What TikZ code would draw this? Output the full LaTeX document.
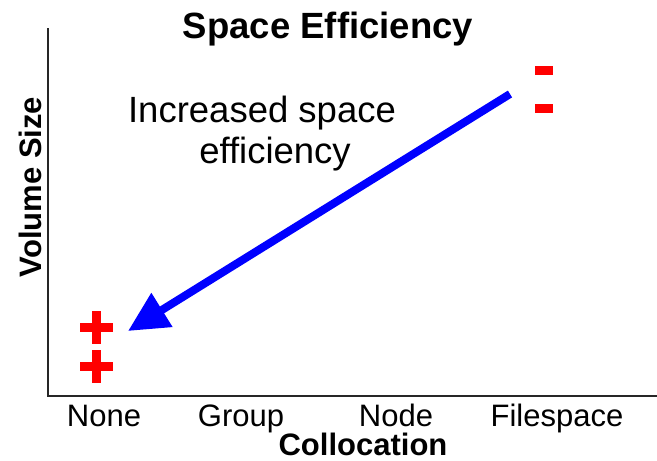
\documentclass[tikz,border=0pt]{standalone}
\usepackage{fontspec}
\setmainfont{Liberation Sans}
\usetikzlibrary{arrows.meta}

\tikzset{
    axis/.style={line width=2.5pt, black!85},
    ticklabel/.style={anchor=base, font=\fontsize{31}{31}\selectfont, inner sep=0pt},
    plussign/.style={fill=red, draw=none},
}

\begin{document}
\begin{tikzpicture}[x=1pt, y=-1pt, >={Triangle[length=40pt, width=38pt]}]

    \useasboundingbox (0,0) rectangle (657,461);

    % --- Axes ---
    \coordinate (origin) at (48,396);
    \coordinate (ytop) at (48,28);
    \coordinate (xend) at (657,396);
    \draw[axis] (ytop) -- (origin) -- (xend);

    % --- Title ---
    \node[anchor=base, inner sep=0pt, font=\bfseries\fontsize{36.5}{36.5}\selectfont] (title) at (328,38) {Space Efficiency};

    % --- Axis labels ---
    \node[ticklabel] (none) at (104,426) {None};
    \node[ticklabel] (group) at (241,426) {Group};
    \node[ticklabel] (nodelbl) at (396,426) {Node};
    \node[ticklabel] (filespace) at (557,426) {Filespace};
    \node[ticklabel, font=\bfseries\fontsize{31}{31}\selectfont] (xlabel) at (363,455.5) {Collocation};
    \node[rotate=90, inner sep=0pt, font=\bfseries\fontsize{31}{31}\selectfont] (ylabel) at (30,187) {Volume Size};

    % --- Annotation ---
    \node[anchor=base, inner sep=0pt, font=\fontsize{36.5}{36.5}\selectfont] (incr) at (262,122) {Increased space};
    \node[anchor=base, inner sep=0pt, font=\fontsize{36.5}{36.5}\selectfont] (effic) at (275,163) {efficiency};

    % --- Plus signs (None) ---
    \foreach \y/\name in {327/plusa, 366/plusb} {
        \fill[plussign] (79.5,\y-4.5) rectangle (112.5,\y+4.5);
        \fill[plussign] (91.5,\y-16.5) rectangle (100.5,\y+16.5);
        \coordinate (\name) at (96,\y);
    }

    % --- Minus signs (Filespace) ---
    \foreach \y/\name in {70.5/minusa, 108.5/minusb} {
        \fill[plussign] (535,\y-4.5) rectangle (553,\y+4.5);
        \coordinate (\name) at (544,\y);
    }

    % --- The arrow ---
    \coordinate (arrstart) at (510,94);
    \coordinate (arrtip) at (128,331);
    \draw[->, blue, line width=8pt] (arrstart) -- (arrtip);

\end{tikzpicture}
\end{document}
